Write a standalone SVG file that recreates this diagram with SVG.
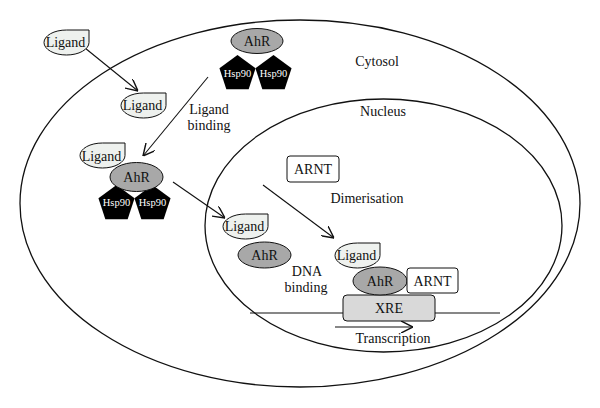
<svg xmlns="http://www.w3.org/2000/svg" width="600" height="408" viewBox="0 0 600 408">
<style>
text{font-family:"Liberation Serif","Times New Roman",serif;font-size:14px;fill:#111;text-anchor:middle}
.hsp{font-size:10.5px;fill:#fff}
.mem{fill:none;stroke:#111;stroke-width:1.3}
.lig{fill:#eef1ee;stroke:#111;stroke-width:1}
.ahr{fill:#a8a8a8;stroke:#111;stroke-width:1}
.pent{fill:#000}
.box{fill:#fff;stroke:#111;stroke-width:1}
.xre{fill:#d9d9d9;stroke:#111;stroke-width:1}
.con line{stroke:#111;stroke-width:1.1;fill:none}
</style>
<defs>
<path id="ligshape" d="M22.5,0 L45,0 L45,12.5 A22.5,12.5 0 1 1 22.5,0 Z"/>
<polygon id="pentshape" points="0,-19 18.07,-5.87 11.17,15.37 -11.17,15.37 -18.07,-5.87"/>
<marker id="arr" markerWidth="12" markerHeight="12" refX="10" refY="5" orient="auto" markerUnits="userSpaceOnUse" viewBox="0 0 10 10">
<path d="M0,0 L10,5 L0,10" fill="none" stroke="#111" stroke-width="1.2"/>
</marker>
</defs>
<g id="cytosol">
<ellipse class="mem" cx="300" cy="203.5" rx="280" ry="183.5"/>
<text x="377" y="66">Cytosol</text>
</g>
<g id="nucleus">
<ellipse class="mem" cx="383.5" cy="225.5" rx="178.5" ry="126.5"/>
<text x="383" y="116">Nucleus</text>
</g>
<g id="connectors" class="con">
<line x1="85" y1="48" x2="138" y2="91" marker-end="url(#arr)"/>
<line x1="208" y1="77" x2="143" y2="156" marker-end="url(#arr)"/>
<line x1="173" y1="182" x2="225" y2="218" marker-end="url(#arr)"/>
<line x1="263" y1="185" x2="334" y2="238" marker-end="url(#arr)"/>
<line x1="250" y1="313" x2="500" y2="313"/>
<line x1="335" y1="327" x2="413" y2="327" marker-end="url(#arr)"/>
</g>
<g id="ligand1">
<use href="#ligshape" class="lig" x="44" y="30"/>
<text x="65.5" y="47">Ligand</text>
</g>
<g id="ligand2">
<use href="#ligshape" class="lig" x="121" y="93"/>
<text x="142.5" y="110">Ligand</text>
</g>
<g id="ahr-hsp90">
<use href="#pentshape" class="pent" x="237.5" y="74"/>
<use href="#pentshape" class="pent" x="273.5" y="74"/>
<ellipse class="ahr" cx="257" cy="41" rx="26" ry="12.5"/>
<text x="257" y="46">AhR</text>
<text class="hsp" x="237.5" y="76.5">Hsp90</text>
<text class="hsp" x="273.5" y="76.5">Hsp90</text>
</g>
<g id="label-ligand-binding">
<text x="209" y="114">Ligand</text>
<text x="209" y="130">binding</text>
</g>
<g id="ligand-ahr-hsp90">
<use href="#pentshape" class="pent" x="116.5" y="204"/>
<use href="#pentshape" class="pent" x="152.5" y="204"/>
<use href="#ligshape" class="lig" x="80" y="143"/>
<text x="101.5" y="161">Ligand</text>
<ellipse class="ahr" cx="136.5" cy="177" rx="26.5" ry="14.5"/>
<text x="136.5" y="182">AhR</text>
<text class="hsp" x="116.5" y="206">Hsp90</text>
<text class="hsp" x="152.5" y="206">Hsp90</text>
</g>
<g id="ligand-ahr">
<ellipse class="ahr" cx="264.5" cy="255" rx="26.5" ry="13"/>
<text x="264.5" y="260">AhR</text>
<use href="#ligshape" class="lig" x="223" y="214"/>
<text x="244.5" y="231">Ligand</text>
</g>
<g id="label-dna-binding">
<text x="307" y="276">DNA</text>
<text x="306" y="292">binding</text>
</g>
<g id="arnt">
<rect class="box" x="287" y="156" width="52" height="26" rx="3"/>
<text x="313" y="174">ARNT</text>
</g>
<g id="label-dimerisation">
<text x="367" y="203">Dimerisation</text>
</g>
<g id="xre">
<rect class="xre" x="343" y="295" width="92" height="26" rx="4"/>
<text x="389" y="313">XRE</text>
</g>
<g id="complex">
<use href="#ligshape" class="lig" x="335" y="243"/>
<text x="356.5" y="260">Ligand</text>
<ellipse class="ahr" cx="380" cy="281" rx="27" ry="14"/>
<text x="380" y="286">AhR</text>
<rect class="box" x="407" y="268" width="51" height="25" rx="3"/>
<text x="432.5" y="286">ARNT</text>
</g>
<g id="label-transcription">
<text x="393" y="343">Transcription</text>
</g>
</svg>
